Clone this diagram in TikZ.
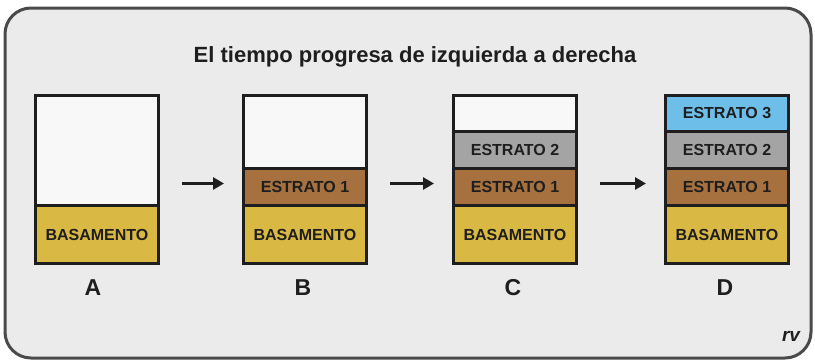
\documentclass[tikz,border=0pt]{standalone}
\usepackage{fontspec}
\setmainfont{Liberation Sans}
\usetikzlibrary{arrows.meta}
\definecolor{bgc}{HTML}{EBEBEB}
\definecolor{framec}{HTML}{4A4A4A}
\definecolor{inkc}{HTML}{1E1E1E}
\definecolor{emptyc}{HTML}{F8F8F8}
\definecolor{basc}{HTML}{D9B943}
\definecolor{est1c}{HTML}{A6703F}
\definecolor{est2c}{HTML}{A4A4A4}
\definecolor{est3c}{HTML}{6DBFEA}
\tikzset{
  layer/.style={draw=inkc, line width=3pt, minimum width=123pt, anchor=north west,
    inner sep=0pt, font=\fontsize{16}{16}\selectfont\bfseries, text=inkc},
  col/.style={draw=inkc, line width=3pt, minimum width=123pt, minimum height=168pt,
    anchor=north west, inner sep=0pt},
  lbl/.style={font=\fontsize{23}{23}\selectfont\bfseries, text=inkc},
  arr/.style={draw=inkc, line width=3pt, -{Triangle[length=11pt,width=12pt]},
    shorten <=22pt, shorten >=18pt}
}
\begin{document}
\begin{tikzpicture}[x=1pt,y=-1pt]
\useasboundingbox (0,0) rectangle (815,362);
\fill[white] (0,0) rectangle (815,362);
\draw[framec, line width=3pt, fill=bgc, rounded corners=26pt] (5,8) rectangle (811,358);
\node[font=\fontsize{22}{22}\selectfont\bfseries, text=inkc] (title) at (415,57) {El tiempo progresa de izquierda a derecha};

% Column A
\node[layer, fill=emptyc, minimum height=110pt] (a0) at (34,94) {};
\node[layer, fill=basc, minimum height=58pt] (a1) at (34,204) {BASAMENTO};
\node[col] (colA) at (34,94) {};
% Column B
\node[layer, fill=emptyc, minimum height=73pt] (b0) at (242,94) {};
\node[layer, fill=est1c, minimum height=37pt] (b2) at (242,167) {ESTRATO 1};
\node[layer, fill=basc, minimum height=58pt] (b1) at (242,204) {BASAMENTO};
\node[col] (colB) at (242,94) {};
% Column C
\node[layer, fill=emptyc, minimum height=36pt] (c0) at (452,94) {};
\node[layer, fill=est2c, minimum height=37pt] (c3) at (452,130) {ESTRATO 2};
\node[layer, fill=est1c, minimum height=37pt] (c2) at (452,167) {ESTRATO 1};
\node[layer, fill=basc, minimum height=58pt] (c1) at (452,204) {BASAMENTO};
\node[col] (colC) at (452,94) {};
% Column D
\node[layer, fill=est3c, minimum height=36pt] (d4) at (664,94) {ESTRATO 3};
\node[layer, fill=est2c, minimum height=37pt] (d3) at (664,130) {ESTRATO 2};
\node[layer, fill=est1c, minimum height=37pt] (d2) at (664,167) {ESTRATO 1};
\node[layer, fill=basc, minimum height=58pt] (d1) at (664,204) {BASAMENTO};
\node[col] (colD) at (664,94) {};

% arrows
\draw[arr] ([yshift=-4pt]colA.east) -- ([yshift=-4pt]colB.west);
\draw[arr] ([yshift=-4pt]colB.east) -- ([yshift=-4pt]colC.west);
\draw[arr] ([yshift=-4pt]colC.east) -- ([yshift=-4pt]colD.west);

% labels
\node[lbl] (la) at (93,288) {A};
\node[lbl] (lb) at (303,288) {B};
\node[lbl] (lc) at (513,288) {C};
\node[lbl] (ld) at (725,288) {D};

\node[font=\fontsize{19}{19}\selectfont\bfseries\itshape, text=inkc] (rv) at (791,336) {rv};
\end{tikzpicture}
\end{document}
